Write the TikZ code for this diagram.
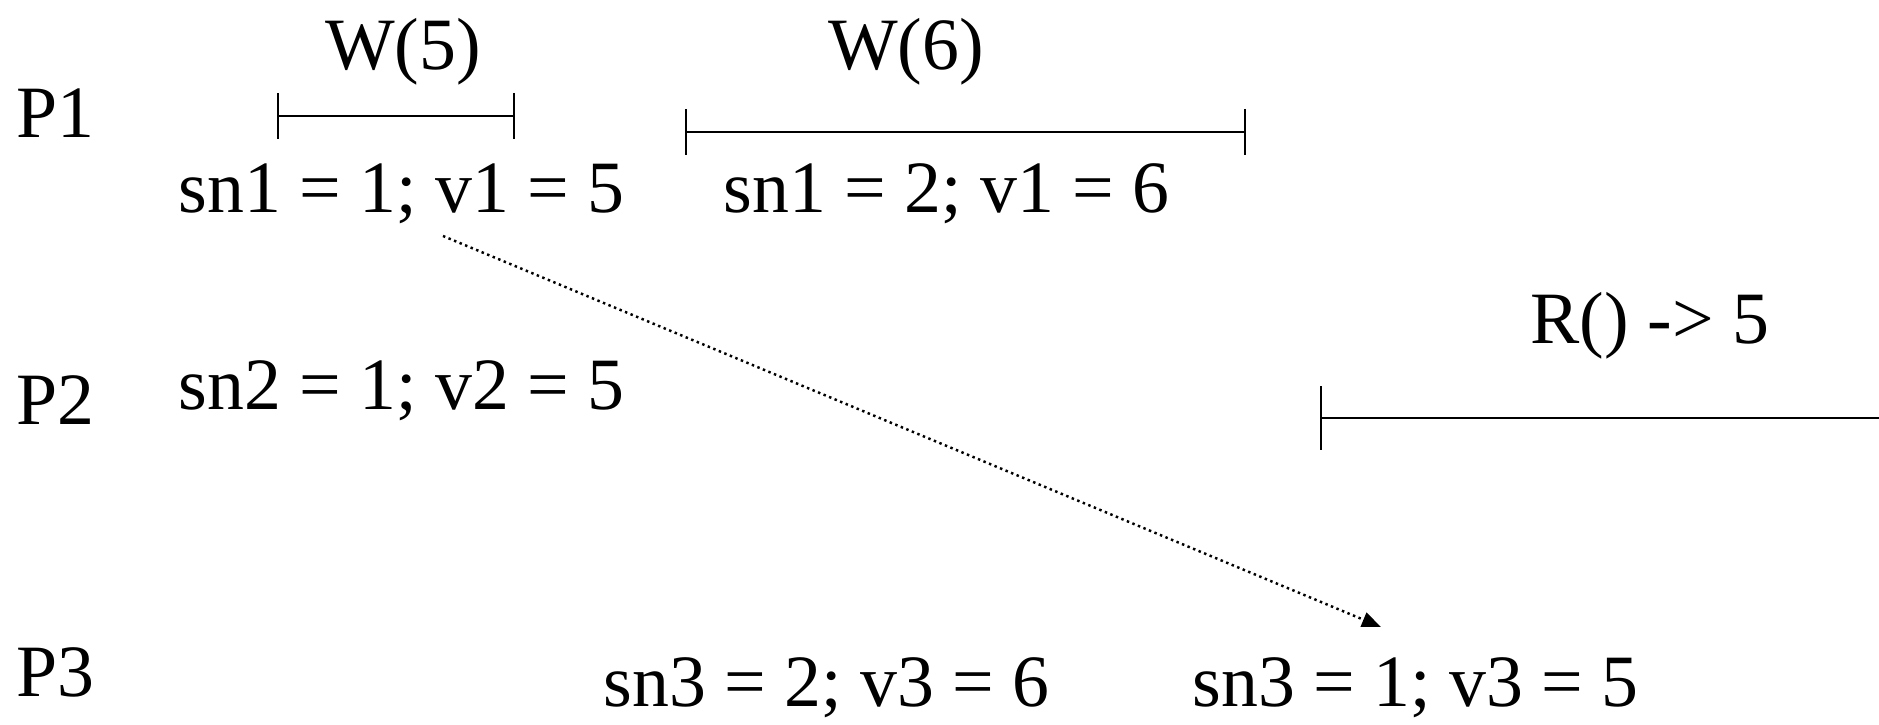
\documentclass[tikz,border=0pt]{standalone}
\usepackage{fontspec}
\setmainfont{Liberation Serif}
\usepackage{tikz}
\usetikzlibrary{positioning,arrows.meta}

\begin{document}
\begin{tikzpicture}[
    txt/.style={anchor=base west, inner sep=0pt, font=\fontsize{21}{24}\selectfont},
    lbl/.style={anchor=base, inner sep=0pt, font=\fontsize{21}{24}\selectfont},
    ival/.style={{Bar[width=4.6mm]}-{Bar[width=4.6mm]}, line width=0.6pt},
    ivalr/.style={{Bar[width=6.4mm]}-, line width=0.6pt},
    msg/.style={-{Triangle[length=1.9mm, width=1.5mm]}, densely dotted, line width=0.7pt}
]
\useasboundingbox (0,0) rectangle (18.79,7.25);

% processes
\node[txt] (p1) at (0.16,5.87) {P1};
\node[txt] (p2) at (0.16,3.00) {P2};
\node[txt] (p3) at (0.16,0.28) {P3};

% operations
\node[lbl] (w5) at (4.03,6.55) {W(5)};
\node[lbl] (w6) at (9.06,6.55) {W(6)};
\node[txt] (rd) at (15.30,3.81) {R() -> 5};

\draw[ival] (2.77,6.09) -- (5.15,6.09);
\draw[ival] (6.85,5.93) -- (12.46,5.93);
\draw[ivalr] (13.20,3.07) -- (18.79,3.07);

% replica states
\node[txt] (s1a) at (1.78,5.12) {sn1 = 1; v1 = 5};
\node[txt] (s1b) at (7.23,5.12) {sn1 = 2; v1 = 6};
\node[txt] (s2) at (1.78,3.15) {sn2 = 1; v2 = 5};
\node[txt] (s3a) at (6.03,0.18) {sn3 = 2; v3 = 6};
\node[txt] (s3b) at (11.92,0.18) {sn3 = 1; v3 = 5};

\coordinate (from) at (4.43,4.89);
\coordinate (to) at (13.81,0.98);
\draw[msg] (from) -- (to);

\end{tikzpicture}
\end{document}
